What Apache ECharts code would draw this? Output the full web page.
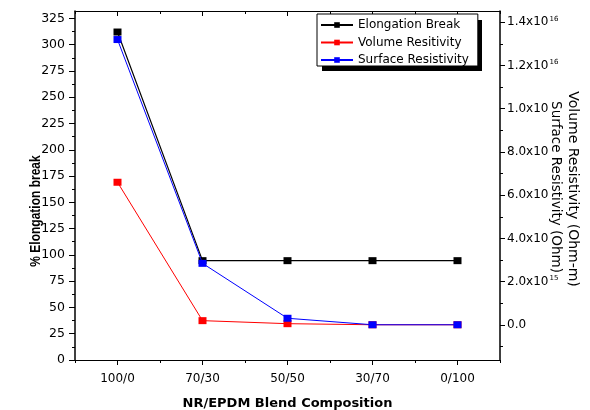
<!DOCTYPE html>
<html>
<head>
<meta charset="utf-8">
<script src="https://cdn.jsdelivr.net/npm/echarts@6/dist/echarts.min.js"></script>
<style>
  html, body { margin: 0; padding: 0; background: #ffffff; }
  #chart { width: 590px; height: 410px; }
</style>
</head>
<body>
<div id="chart"></div>
<script>
// Blend compositions (NR/EPDM) along the x axis
const categories = ['100/0', '70/30', '50/50', '30/70', '0/100'];

// % elongation at break (left axis)
const elongationBreak = [312, 94.5, 94.5, 94.5, 94.5];

// Resistivities in Ohm-m (right axis)
const volumeResistivity = [6.6e15, 2.0e14, 6e13, 1e13, 1e13];
const surfaceResistivity = [1.32e16, 2.85e15, 3.1e14, 1e13, 1e13];

// Tick values
const leftTicks = [0, 25, 50, 75, 100, 125, 150, 175, 200, 225, 250, 275, 300, 325];
const leftMinorTicks = [12.5, 37.5, 62.5, 87.5, 112.5, 137.5, 162.5, 187.5, 212.5, 237.5, 262.5, 287.5, 312.5];
const rightTicks = [0, 2e15, 4e15, 6e15, 8e15, 1e16, 1.2e16, 1.4e16];
const rightMinorTicks = [-1e15, 1e15, 3e15, 5e15, 7e15, 9e15, 1.1e16, 1.3e16];

const FONT = 'DejaVu Sans';
const ARIAL = 'Liberation Sans';

function sciLabel(v) {
  if (v === 0) return '0.0';
  const e = Math.floor(Math.log10(v) + 1e-9);
  const m = v / Math.pow(10, e);
  return m.toFixed(1) + 'x10{sup|' + e + '}';
}

const chart = echarts.init(document.getElementById('chart'), null, { renderer: 'canvas' });

const black = '#000000';
const hidden = { show: false };

chart.setOption({
  animation: false,
  backgroundColor: '#ffffff',
  grid: { left: 75, right: 90, top: 11, bottom: 50, containLabel: false, outerBoundsMode: 'none' },
  legend: {
    orient: 'vertical',
    left: 317,
    top: 14,
    z: 10,
    padding: [5, 9, 0, 3],
    itemGap: 5.5,
    itemWidth: 32,
    itemHeight: 7,
    backgroundColor: '#ffffff',
    borderColor: black,
    borderWidth: 1,
    textStyle: { fontFamily: FONT, fontSize: 12, color: black, lineHeight: 12 },
    data: ['Elongation Break', 'Volume Resitivity', 'Surface Resistivity']
  },
  xAxis: [
    {
      type: 'category', position: 'bottom', data: categories, boundaryGap: true,
      axisLine: { show: true, onZero: false, lineStyle: { color: black, width: 1 } },
      axisTick: { show: true, alignWithLabel: true, inside: false, length: 5, lineStyle: { color: black } },
      axisLabel: { fontFamily: FONT, fontSize: 12, color: black, margin: 13 },
      splitLine: hidden,
      name: 'NR/EPDM Blend Composition', nameLocation: 'middle', nameGap: 37,
      nameTextStyle: { fontFamily: FONT, fontSize: 13, fontWeight: 'bold', color: black }
    },
    {
      type: 'category', position: 'bottom', data: categories, boundaryGap: true,
      axisLine: { show: false, onZero: false },
      axisTick: { show: true, alignWithLabel: false, inside: false, length: 3, lineStyle: { color: black } },
      axisLabel: hidden, splitLine: hidden
    },
    {
      type: 'category', position: 'top', data: categories, boundaryGap: true,
      axisLine: { show: true, onZero: false, lineStyle: { color: black, width: 1 } },
      axisTick: { show: true, alignWithLabel: true, inside: true, length: 5, lineStyle: { color: black } },
      axisLabel: hidden, splitLine: hidden
    },
    {
      type: 'category', position: 'top', data: categories, boundaryGap: true,
      axisLine: { show: false, onZero: false },
      axisTick: { show: true, alignWithLabel: false, inside: true, length: 3, lineStyle: { color: black } },
      axisLabel: hidden, splitLine: hidden
    }
  ],
  yAxis: [
    {
      type: 'value', position: 'left', min: 0, max: 332,
      axisLine: { show: true, onZero: false, lineStyle: { color: black, width: 1.5 } },
      axisTick: { show: true, inside: false, length: 6, customValues: leftTicks, lineStyle: { color: black } },
      axisLabel: { customValues: leftTicks, fontFamily: FONT, fontSize: 12.5, color: black, margin: 10 },
      splitLine: hidden
    },
    {
      type: 'value', position: 'left', min: 0, max: 332,
      axisLine: { show: false, onZero: false },
      axisTick: { show: true, inside: false, length: 3, customValues: leftMinorTicks, lineStyle: { color: black } },
      axisLabel: hidden, splitLine: hidden
    },
    {
      type: 'value', position: 'right', min: -1.62e15, max: 1.452e16,
      axisLine: { show: true, onZero: false, lineStyle: { color: black, width: 1.5 } },
      axisTick: { show: true, inside: false, length: 5, customValues: rightTicks, lineStyle: { color: black } },
      axisLabel: {
        customValues: rightTicks, formatter: sciLabel,
        fontFamily: FONT, fontSize: 12, color: black, margin: 7, lineHeight: 14,
        rich: { sup: { fontFamily: FONT, fontSize: 7, color: black, verticalAlign: 'top', lineHeight: 14, padding: [0, 0, 0, 1] } }
      },
      splitLine: hidden
    },
    {
      type: 'value', position: 'right', min: -1.62e15, max: 1.452e16,
      axisLine: { show: false, onZero: false },
      axisTick: { show: true, inside: false, length: 3, customValues: rightMinorTicks, lineStyle: { color: black } },
      axisLabel: hidden, splitLine: hidden
    }
  ],
  graphic: [
    {
      // drop shadow behind the legend box
      type: 'rect', z: 5, silent: true,
      shape: { x: 322, y: 20, width: 160, height: 51 },
      style: { fill: black }
    },
    {
      type: 'text', x: 36, y: 211, rotation: Math.PI / 2, scaleY: 1.25,
      style: { text: '% Elongation break', fontFamily: ARIAL, fontSize: 12, fontWeight: 'bold', fill: black, align: 'center', verticalAlign: 'middle' }
    },
    {
      type: 'text', x: 573, y: 189, rotation: -Math.PI / 2, z: 10,
      style: { text: 'Volume Resistivity (Ohm-m)', fontFamily: FONT, fontSize: 14, fill: black, align: 'center', verticalAlign: 'middle' }
    },
    {
      // drawn over the exponents of the neighbouring tick labels
      type: 'text', x: 555, y: 187, rotation: -Math.PI / 2, z: 10,
      style: {
        text: 'Surface Resistivity (Ohm)', fontFamily: FONT, fontSize: 13.5, fill: black,
        align: 'center', verticalAlign: 'middle', lineHeight: 12, backgroundColor: '#ffffff'
      }
    }
  ],
  series: [
    {
      name: 'Elongation Break', type: 'line', xAxisIndex: 0, yAxisIndex: 0,
      data: elongationBreak, symbol: 'rect', symbolSize: [8, 7],
      itemStyle: { color: black }, lineStyle: { color: black, width: 1.2 }, z: 2
    },
    {
      name: 'Volume Resitivity', type: 'line', xAxisIndex: 0, yAxisIndex: 2,
      data: volumeResistivity, symbol: 'rect', symbolSize: [8, 7],
      itemStyle: { color: '#ff0000' }, lineStyle: { color: '#ff0000', width: 1 }, z: 3
    },
    {
      name: 'Surface Resistivity', type: 'line', xAxisIndex: 0, yAxisIndex: 2,
      data: surfaceResistivity, symbol: 'rect', symbolSize: [8, 7],
      itemStyle: { color: '#0000ff' }, lineStyle: { color: '#0000ff', width: 1 }, z: 4
    }
  ]
});
</script>
</body>
</html>
